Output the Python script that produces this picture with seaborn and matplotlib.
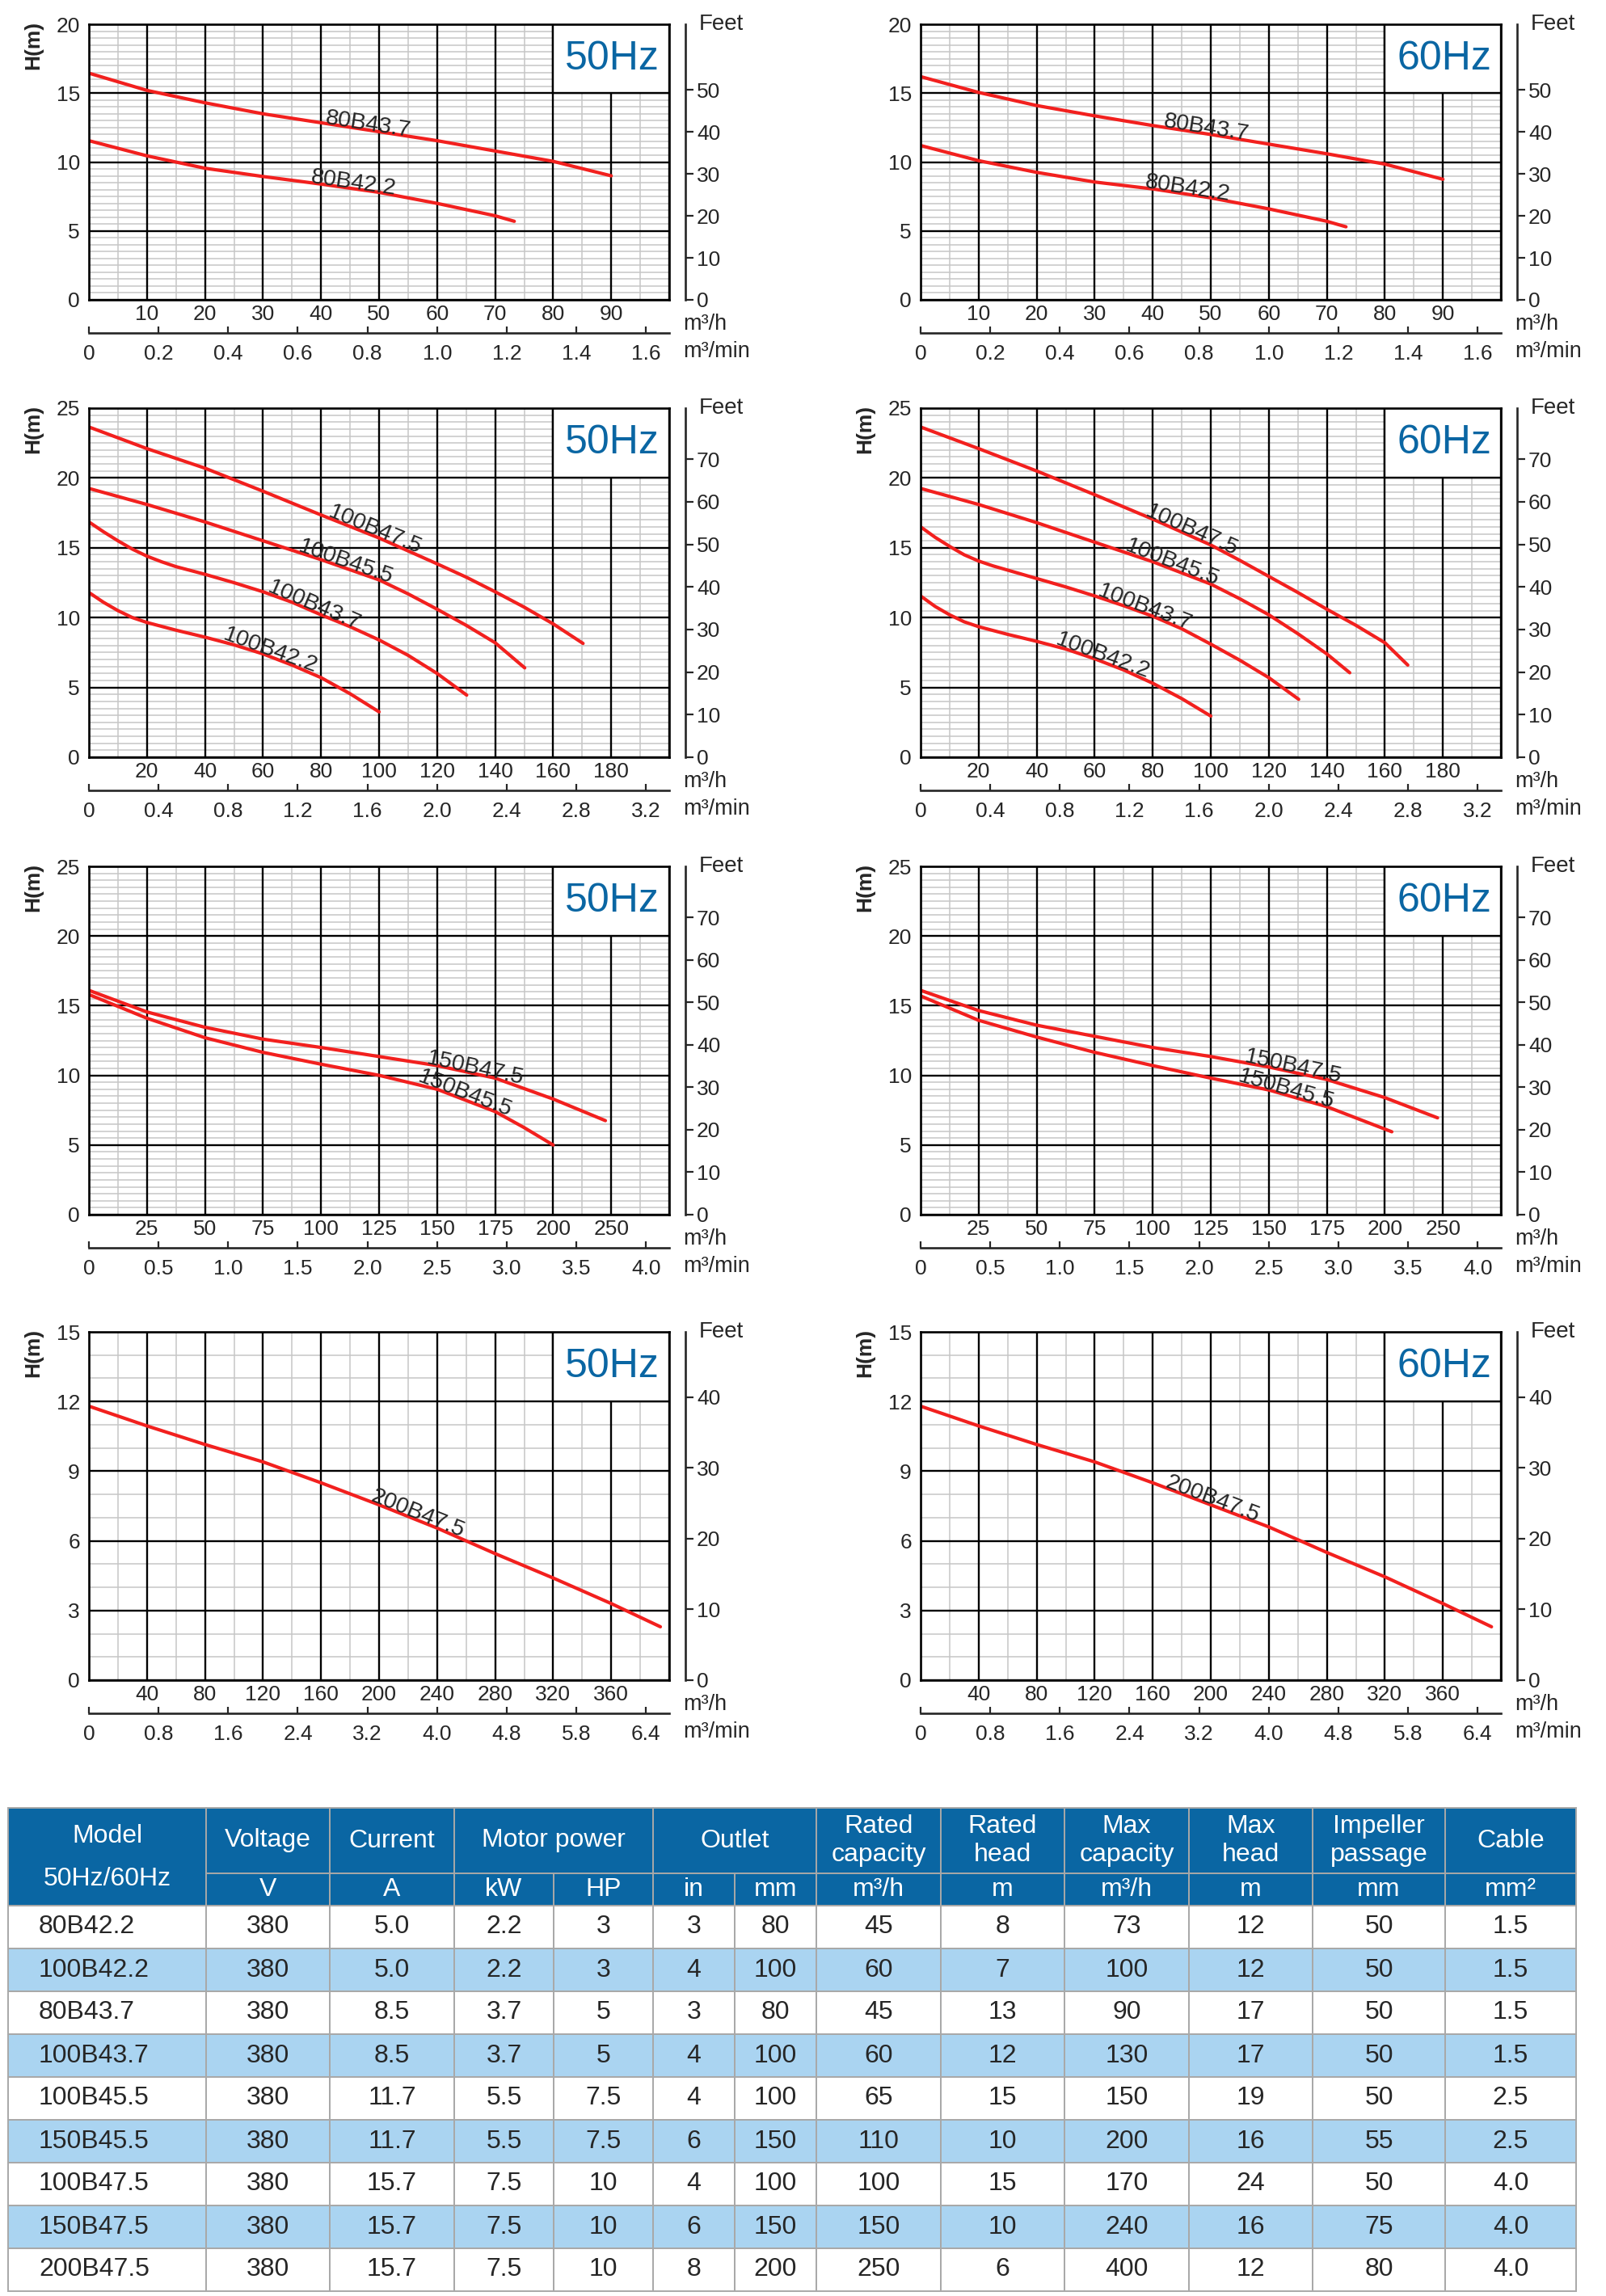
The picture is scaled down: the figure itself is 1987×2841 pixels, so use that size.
import numpy as np
import matplotlib
matplotlib.use("Agg")
import matplotlib.pyplot as plt
from matplotlib.patches import Rectangle
import seaborn as sns

sns.set_style("white")
plt.rcParams["font.family"] = ["Liberation Sans", "DejaVu Sans"]

FW, FH = 1987, 2841
RED = "#f2201e"
BLUE = "#0a66a3"
ROWBLUE = "#aad4f1"
LINEGRAY = "#a8a8a8"
MINORGRAY = "#c6c6c6"

# ---------------- pump curves: flow (m3/h) and head (m) ----------------
# row 1 : 80B
q_80b437_50 = [0, 10, 20, 30, 40, 50, 60, 70, 80, 90]
h_80b437_50 = [16.45, 15.2, 14.3, 13.5, 12.85, 12.2, 11.55, 10.8, 10.05, 9.0]
q_80b422_50 = [0, 10, 20, 30, 40, 50, 60, 70, 73.3]
h_80b422_50 = [11.55, 10.45, 9.55, 8.95, 8.4, 7.8, 7.0, 6.1, 5.7]
q_80b437_60 = [0, 10, 20, 30, 40, 50, 60, 70, 80, 90]
h_80b437_60 = [16.2, 15.05, 14.1, 13.35, 12.65, 12.0, 11.3, 10.6, 9.85, 8.75]
q_80b422_60 = [0, 10, 20, 30, 40, 50, 60, 70, 73.3]
h_80b422_60 = [11.2, 10.1, 9.25, 8.55, 8.05, 7.4, 6.6, 5.7, 5.3]

# row 2 : 100B
q_100b475_50 = [0, 20, 40, 60, 80, 100, 120, 130, 140, 150, 160, 170.3]
h_100b475_50 = [23.65, 22.1, 20.7, 19.05, 17.35, 15.7, 13.85, 12.9, 11.85, 10.75, 9.55, 8.15]
q_100b455_50 = [0, 20, 40, 60, 80, 100, 110, 120, 130, 140, 150.2]
h_100b455_50 = [19.25, 18.1, 16.85, 15.5, 14.15, 12.7, 11.7, 10.6, 9.45, 8.2, 6.4]
q_100b437_50 = [0, 5, 10, 15, 20, 25, 30, 40, 50, 60, 70, 80, 90, 100, 110, 120, 130.2]
h_100b437_50 = [16.85, 16.15, 15.5, 14.9, 14.4, 14.0, 13.65, 13.1, 12.5, 11.85, 11.1,
                10.2, 9.35, 8.4, 7.3, 6.0, 4.45]
q_100b422_50 = [0, 5, 10, 15, 20, 30, 40, 50, 60, 70, 80, 90, 100]
h_100b422_50 = [11.8, 11.1, 10.5, 10.0, 9.65, 9.1, 8.6, 8.05, 7.4, 6.6, 5.7, 4.55, 3.25]
q_100b475_60 = [0, 20, 40, 60, 80, 100, 110, 120, 130, 140, 150, 160, 167.9]
h_100b475_60 = [23.65, 22.1, 20.5, 18.8, 17.05, 15.2, 14.1, 12.95, 11.8, 10.6, 9.45, 8.2, 6.6]
q_100b455_60 = [0, 20, 40, 60, 80, 100, 110, 120, 130, 140, 147.9]
h_100b455_60 = [19.25, 18.1, 16.8, 15.4, 14.0, 12.4, 11.35, 10.2, 8.85, 7.4, 6.05]
q_100b437_60 = [0, 5, 10, 15, 20, 25, 30, 40, 50, 60, 70, 80, 90, 100, 110, 120, 130.3]
h_100b437_60 = [16.5, 15.75, 15.1, 14.5, 14.05, 13.7, 13.4, 12.8, 12.2, 11.55, 10.85,
                10.1, 9.2, 8.1, 6.95, 5.7, 4.15]
q_100b422_60 = [0, 5, 10, 15, 20, 30, 40, 50, 60, 70, 80, 90, 100]
h_100b422_60 = [11.55, 10.8, 10.2, 9.7, 9.35, 8.8, 8.3, 7.75, 7.05, 6.25, 5.3, 4.2, 2.95]

# row 3 : 150B
q_150b475_50 = [0, 25, 50, 75, 100, 125, 150, 175, 200, 222.5]
h_150b475_50 = [16.1, 14.55, 13.45, 12.6, 12.0, 11.35, 10.7, 9.8, 8.3, 6.75]
q_150b455_50 = [0, 25, 50, 75, 100, 125, 150, 175, 187.5, 200]
h_150b455_50 = [15.8, 14.1, 12.7, 11.65, 10.8, 10.0, 9.0, 7.4, 6.25, 5.0]
q_150b475_60 = [0, 25, 50, 75, 100, 125, 150, 175, 200, 222.7]
h_150b475_60 = [16.1, 14.65, 13.6, 12.8, 12.0, 11.35, 10.6, 9.7, 8.4, 6.95]
q_150b455_60 = [0, 25, 50, 75, 100, 125, 150, 175, 203]
h_150b455_60 = [15.7, 13.95, 12.75, 11.65, 10.7, 9.8, 8.95, 7.75, 5.95]

# row 4 : 200B
q_200b475_50 = [0, 40, 80, 120, 160, 200, 240, 280, 320, 360, 393.9]
h_200b475_50 = [11.8, 10.95, 10.15, 9.4, 8.5, 7.55, 6.55, 5.45, 4.4, 3.3, 2.3]
q_200b475_60 = [0, 40, 80, 120, 160, 200, 240, 280, 320, 360, 393.5]
h_200b475_60 = [11.8, 10.95, 10.15, 9.4, 8.5, 7.55, 6.6, 5.5, 4.45, 3.3, 2.3]

# ---------------- axis settings per chart row ----------------
row_xmax = [100, 200, 250, 400]
row_ymax = [20, 25, 25, 15]
row_yticks = [[0, 5, 10, 15, 20], [0, 5, 10, 15, 20, 25], [0, 5, 10, 15, 20, 25],
              [0, 3, 6, 9, 12, 15]]
row_yminor = [0.5, 0.5, 0.5, 1]
row_qlabels = [
    ["10", "20", "30", "40", "50", "60", "70", "80", "90"],
    ["20", "40", "60", "80", "100", "120", "140", "160", "180"],
    ["25", "50", "75", "100", "125", "150", "175", "200", "250"],
    ["40", "80", "120", "160", "200", "240", "280", "320", "360"],
]
row_min_ticks = [
    [0, 0.2, 0.4, 0.6, 0.8, 1.0, 1.2, 1.4, 1.6],
    [0, 0.4, 0.8, 1.2, 1.6, 2.0, 2.4, 2.8, 3.2],
    [0, 0.5, 1.0, 1.5, 2.0, 2.5, 3.0, 3.5, 4.0],
    [0, 0.8, 1.6, 2.4, 3.2, 4.0, 4.8, 5.6, 6.4],
]
row_min_labels = [
    ["0", "0.2", "0.4", "0.6", "0.8", "1.0", "1.2", "1.4", "1.6"],
    ["0", "0.4", "0.8", "1.2", "1.6", "2.0", "2.4", "2.8", "3.2"],
    ["0", "0.5", "1.0", "1.5", "2.0", "2.5", "3.0", "3.5", "4.0"],
    ["0", "0.8", "1.6", "2.4", "3.2", "4.0", "4.8", "5.8", "6.4"],
]
row_feet_ticks = [[0, 10, 20, 30, 40, 50], [0, 10, 20, 30, 40, 50, 60, 70],
                  [0, 10, 20, 30, 40, 50, 60, 70], [0, 10, 20, 30, 40]]
row_box = [(80, 15), (160, 20), (200, 20), (320, 12)]
freq_labels = ["50Hz", "60Hz"]

# curves per chart: (name, flow, head, label position on flow axis)
panel_curves = {
    (0, 0): [("80B43.7", q_80b437_50, h_80b437_50, 48),
             ("80B42.2", q_80b422_50, h_80b422_50, 45.5)],
    (0, 1): [("80B43.7", q_80b437_60, h_80b437_60, 49),
             ("80B42.2", q_80b422_60, h_80b422_60, 45.8)],
    (1, 0): [("100B47.5", q_100b475_50, h_100b475_50, 97.8),
             ("100B45.5", q_100b455_50, h_100b455_50, 88),
             ("100B43.7", q_100b437_50, h_100b437_50, 77),
             ("100B42.2", q_100b422_50, h_100b422_50, 62)],
    (1, 1): [("100B47.5", q_100b475_60, h_100b475_60, 92.6),
             ("100B45.5", q_100b455_60, h_100b455_60, 86),
             ("100B43.7", q_100b437_60, h_100b437_60, 76.7),
             ("100B42.2", q_100b422_60, h_100b422_60, 62.2)],
    (2, 0): [("150B47.5", q_150b475_50, h_150b475_50, 166),
             ("150B45.5", q_150b455_50, h_150b455_50, 161)],
    (2, 1): [("150B47.5", q_150b475_60, h_150b475_60, 160),
             ("150B45.5", q_150b455_60, h_150b455_60, 157)],
    (3, 0): [("200B47.5", q_200b475_50, h_200b475_50, 225)],
    (3, 1): [("200B47.5", q_200b475_60, h_200b475_60, 200)],
}

# ---------------- table ----------------
models = ["80B42.2", "100B42.2", "80B43.7", "100B43.7", "100B45.5",
          "150B45.5", "100B47.5", "150B47.5", "200B47.5"]
voltage = [380, 380, 380, 380, 380, 380, 380, 380, 380]
current = ["5.0", "5.0", "8.5", "8.5", "11.7", "11.7", "15.7", "15.7", "15.7"]
power_kw = ["2.2", "2.2", "3.7", "3.7", "5.5", "5.5", "7.5", "7.5", "7.5"]
power_hp = ["3", "3", "5", "5", "7.5", "7.5", "10", "10", "10"]
outlet_in = [3, 4, 3, 4, 4, 6, 4, 6, 8]
outlet_mm = [80, 100, 80, 100, 100, 150, 100, 150, 200]
rated_capacity = [45, 60, 45, 60, 65, 110, 100, 150, 250]
rated_head = [8, 7, 13, 12, 15, 10, 15, 10, 6]
max_capacity = [73, 100, 90, 130, 150, 200, 170, 240, 400]
max_head = [12, 12, 17, 17, 19, 16, 24, 16, 12]
impeller = [50, 50, 50, 50, 50, 55, 50, 75, 80]
cable = ["1.5", "1.5", "1.5", "1.5", "2.5", "2.5", "4.0", "4.0", "4.0"]

group_titles = ["Voltage", "Current", "Motor power", "Outlet", "Rated\ncapacity",
                "Rated\nhead", "Max\ncapacity", "Max\nhead", "Impeller\npassage", "Cable"]
group_spans = [(1, 2), (2, 3), (3, 5), (5, 7), (7, 8), (8, 9), (9, 10), (10, 11),
               (11, 12), (12, 13)]
units = ["V", "A", "kW", "HP", "in", "mm", "m³/h", "m", "m³/h", "m", "mm", "mm²"]

# ---------------- layout (pixels) ----------------
col_left = [110, 1139]
panel_w = 718
row_top = [30, 505, 1072, 1648]
row_h = [341, 432, 431, 431]

fig = plt.figure(figsize=(FW / 100, FH / 100), dpi=100)
fig.patch.set_facecolor("white")


def draw_panel(ax, r, c, hpx):
    xmax, ymax = row_xmax[r], row_ymax[r]
    ax.set_xlim(0, xmax)
    ax.set_ylim(0, ymax)
    ax.set_axisbelow(True)

    # light minor grid
    ax.vlines(np.linspace(0, xmax, 21), 0, ymax, color=MINORGRAY, lw=1.1, zorder=0.3)
    ax.hlines(np.arange(0, ymax + 1e-9, row_yminor[r]), 0, xmax, color=MINORGRAY,
              lw=1.1, zorder=0.3)

    ax.set_xticks(np.linspace(0, xmax, 11), [""] + row_qlabels[r] + [""])
    ax.set_yticks(row_yticks[r], [str(t) for t in row_yticks[r]])
    ax.grid(which="major", color="black", lw=1.7)
    ax.tick_params(axis="x", length=0, pad=4, labelsize=19)
    ax.tick_params(axis="y", length=0, pad=8, labelsize=19)
    for s in ax.spines.values():
        s.set_visible(True)
        s.set_color("black")
        s.set_linewidth(1.9)

    # blank corner for the frequency tag
    bx, by = row_box[r]
    ax.add_patch(Rectangle((bx, by), xmax - bx, ymax - by, facecolor="white",
                           edgecolor="black", lw=1.7, zorder=1))
    ax.text(1 - 12 / panel_w, 1 - 43 / hpx, freq_labels[c], transform=ax.transAxes,
            ha="right", va="center", fontsize=36, color=BLUE, zorder=3)

    for name, q, h, lx in panel_curves[(r, c)]:
        sns.lineplot(x=q, y=h, ax=ax, color=RED, linewidth=3.0, errorbar=None,
                     zorder=2.5)
        d = xmax * 0.03
        p1 = ax.transData.transform((lx - d, np.interp(lx - d, q, h)))
        p2 = ax.transData.transform((lx + d, np.interp(lx + d, q, h)))
        ang = np.degrees(np.arctan2(p2[1] - p1[1], p2[0] - p1[0]))
        ax.text(lx, np.interp(lx, q, h), name, rotation=ang, rotation_mode="anchor",
                ha="center", va="baseline", fontsize=20.5, zorder=4)
    ax.set_xlabel("")
    ax.set_ylabel("")

    # m3/min scale below
    sec = ax.secondary_xaxis(-41 / hpx, functions=(lambda q: q / 60, lambda m: m * 60))
    sec.set_ticks(row_min_ticks[r], labels=row_min_labels[r])
    sec.tick_params(axis="x", bottom=True, top=False, direction="in", length=5.5,
                    width=1.6, pad=10, labelsize=19)
    sec.spines["bottom"].set_linewidth(1.9)

    # feet scale on the right
    secy = ax.secondary_yaxis(1 + 20 / panel_w,
                              functions=(lambda m: m * 3.28084, lambda f: f / 3.28084))
    secy.set_ticks(row_feet_ticks[r], labels=[str(t) for t in row_feet_ticks[r]])
    secy.tick_params(axis="y", right=True, left=False, direction="out", length=7,
                     width=1.6, pad=3, labelsize=19)
    secy.spines["right"].set_linewidth(1.9)

    ax.text(1 + 37 / panel_w, 1.0, "Feet", transform=ax.transAxes, ha="left",
            va="center", fontsize=20)
    ax.text(1 + 17 / panel_w, -30 / hpx, "m³/h", transform=ax.transAxes, ha="left",
            va="center", fontsize=19.5)
    ax.text(1 + 17 / panel_w, -64 / hpx, "m³/min", transform=ax.transAxes, ha="left",
            va="center", fontsize=19.5)
    if not (r == 0 and c == 1):
        ax.text(-69 / panel_w, 1 + 4 / hpx, "H(m)", transform=ax.transAxes,
                rotation=90, ha="center", va="top", fontsize=19, fontweight="bold")


for r in range(4):
    for c in range(2):
        left, top, hpx = col_left[c], row_top[r], row_h[r]
        ax = fig.add_axes([left / FW, 1 - (top + hpx) / FH, panel_w / FW, hpx / FH])
        draw_panel(ax, r, c, hpx)

# ---------------- spec table ----------------
axt = fig.add_axes([0, 0, 1, 1])
axt.set_xlim(0, FW)
axt.set_ylim(FH, 0)
axt.axis("off")

col_edges = [10, 255, 408, 562, 685, 808, 909, 1010, 1164, 1317, 1471, 1624, 1788, 1950]
head_top, head_mid, head_bot, data_h = 2237, 2318, 2358, 53
table_cols = [models, voltage, current, power_kw, power_hp, outlet_in, outlet_mm,
              rated_capacity, rated_head, max_capacity, max_head, impeller, cable]


def cell(x0, x1, y0, y1, color):
    axt.add_patch(Rectangle((x0, y0), x1 - x0, y1 - y0, facecolor=color,
                            edgecolor=LINEGRAY, lw=1.4))


cell(col_edges[0], col_edges[1], head_top, head_bot, BLUE)
mx = (col_edges[0] + col_edges[1]) / 2
axt.text(mx, 2272, "Model", ha="center", va="center", fontsize=23, color="white")
axt.text(mx, 2325, "50Hz/60Hz", ha="center", va="center", fontsize=23, color="white")
for title, (a, b) in zip(group_titles, group_spans):
    cell(col_edges[a], col_edges[b], head_top, head_mid, BLUE)
    axt.text((col_edges[a] + col_edges[b]) / 2, (head_top + head_mid) / 2, title,
             ha="center", va="center", fontsize=23, color="white", linespacing=1.25)
for i, u in enumerate(units):
    x0, x1 = col_edges[i + 1], col_edges[i + 2]
    cell(x0, x1, head_mid, head_bot, BLUE)
    axt.text((x0 + x1) / 2, (head_mid + head_bot) / 2, u, ha="center", va="center",
             fontsize=23, color="white")

for k in range(len(models)):
    y0 = head_bot + k * data_h
    bg = ROWBLUE if k % 2 == 1 else "white"
    for j, col in enumerate(table_cols):
        x0, x1 = col_edges[j], col_edges[j + 1]
        cell(x0, x1, y0, y0 + data_h, bg)
        if j == 0:
            axt.text(x0 + 38, y0 + data_h / 2, str(col[k]), ha="left", va="center",
                     fontsize=23)
        else:
            axt.text((x0 + x1) / 2, y0 + data_h / 2, str(col[k]), ha="center",
                     va="center", fontsize=23)

fig.savefig("out.png", dpi=100, facecolor="white")
